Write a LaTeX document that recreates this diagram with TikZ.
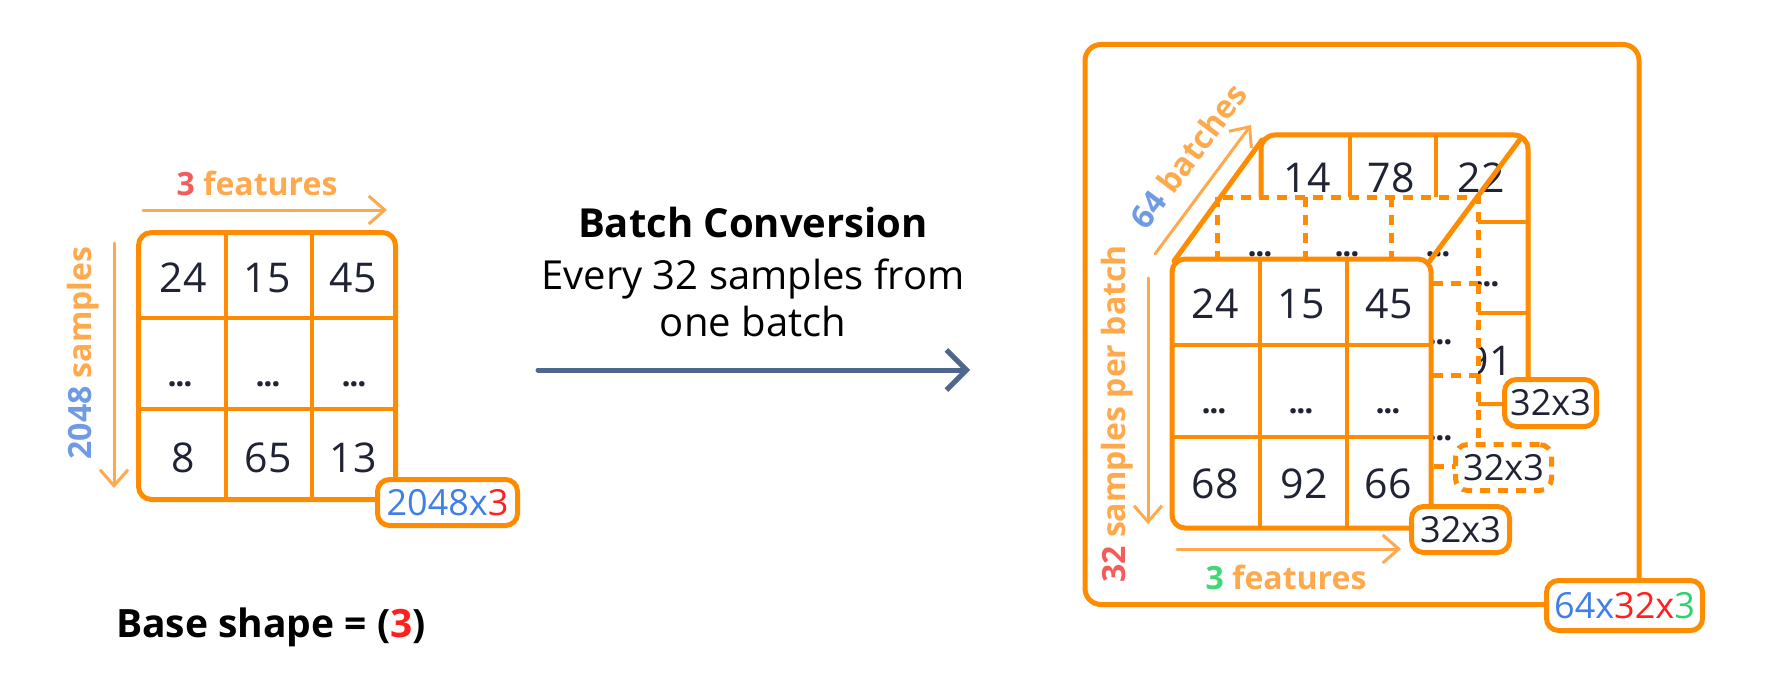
\documentclass[tikz,border=0pt]{standalone}
\usepackage{graphicx}
\usepackage{fontspec}
\setmainfont{Open Sans}
\usetikzlibrary{arrows.meta}
\definecolor{org}{HTML}{FF8C00}
\definecolor{lorg}{HTML}{FFA94D}
\definecolor{sred}{HTML}{F45B5B}
\definecolor{sblue}{HTML}{6F9BE6}
\definecolor{lblue}{HTML}{3F7FE8}
\definecolor{lred}{HTML}{FF1F1F}
\definecolor{sgreen}{HTML}{3FD872}
\definecolor{lgreen}{HTML}{2ED16A}
\definecolor{navy}{HTML}{1F2333}
\definecolor{slate}{HTML}{4E6690}
\newcommand{\tdots}{.\kern-0.6pt.\kern-0.6pt.}
\tikzset{
 ob/.style={draw=org, line width=2.5pt},
 gl/.style={draw=org, line width=2pt},
 dl/.style={draw=org, line width=2.5pt, dash pattern=on 5pt off 4pt},
 num/.style={text=navy, inner sep=0pt, font=\fontsize{20.5}{24}\selectfont},
 dts/.style={text=navy, inner sep=0pt, anchor=base, font=\bfseries\fontsize{16}{18}\selectfont},
 lbl/.style={draw=org, line width=2.5pt, fill=white, rounded corners=6pt, inner sep=0pt, text=navy, font=\fontsize{18}{20}\selectfont},
 tag/.style={inner sep=0pt, font=\bfseries\fontsize{16}{19}\selectfont},
 larr/.style={draw=lorg, line width=1.5pt, line cap=round},
}
\begin{document}
\begin{tikzpicture}[x=0.5pt,y=-0.5pt]
\useasboundingbox (0,0) rectangle (1772,674);
\fill[white] (0,0) rectangle (1772,674);

% ---------- left grid ----------
\draw[ob, fill=white, rounded corners=6.5pt] (138.5,232.5) rectangle (395.5,499.5);
\draw[gl] (226,232) -- (226,500) (312,232) -- (312,500);
\draw[gl] (138,318) -- (396,318) (138,409) -- (396,409);
\node[num] (a11) at (183,278) {24};
\node[num] (a12) at (267,278) {15};
\node[num] (a13) at (353,278) {45};
\node[dts] (a21) at (180,386) {\tdots};
\node[dts] (a22) at (268,386) {\tdots};
\node[dts] (a23) at (354,386) {\tdots};
\node[num] (a31) at (183,458) {8};
\node[num] (a32) at (268,458) {65};
\node[num] (a33) at (353,458) {13};
\node[lbl, minimum width=70pt, minimum height=23pt] (la) at (447.5,502.5) {{\color{lblue}2048x}{\color{lred}3}};

\coordinate (fa1) at (143,210); \coordinate (fa2) at (387,210);
\draw[larr, -{Straight Barb[length=8pt,width=14pt]}] (fa1) -- (fa2);
\node[tag] (ft1) at (257,183) {{\color{sred}3} {\color{lorg}features}};
\coordinate (sa1) at (114,243); \coordinate (sa2) at (114,488);
\draw[larr, -{Straight Barb[length=8pt,width=14pt]}] (sa1) -- (sa2);
\node[tag, rotate=90] (st1) at (83,353) {{\color{sblue}2048} {\color{lorg}samples}};

\node[anchor=base, font=\bfseries\fontsize{19.5}{23}\selectfont] (bs) at (271,637) {Base shape = ({\color{lred}3})};

% ---------- middle ----------
\node[anchor=base, font=\bfseries\fontsize{20}{24}\selectfont] (t1) at (753,237) {Batch Conversion};
\node[anchor=base, font=\fontsize{20}{24}\selectfont] (t2) at (753,289) {Every 32 samples from};
\node[anchor=base, font=\fontsize{20}{24}\selectfont] (t3) at (753,336) {one batch};
\coordinate (ma) at (538,370); \coordinate (mb) at (970,370);
\draw[draw=slate, line width=2.5pt, line cap=round, -{Straight Barb[length=10pt,width=20pt]}] (ma) -- (mb);

% ---------- right ----------
\draw[ob, rounded corners=8pt] (1085,44.5) rectangle (1639,604.5);

% back layer
\draw[gl, fill=white, rounded corners=7pt] (1261,135) rectangle (1528,404);
\draw[gl] (1350,135) -- (1350,404) (1436,135) -- (1436,404);
\draw[gl] (1261,222) -- (1528,222) (1261,313) -- (1528,313);
\draw[ob, rounded corners=7pt] (1261,404) -- (1261,135) -- (1528,135) -- (1528,404);
\node[num] (b11) at (1307,178) {14};
\node[num] (b12) at (1391,178) {78};
\node[num] (b13) at (1481,178) {22};
\node[dts] (b23) at (1487,286) {\tdots};
\node[num] (b33) at (1489,361) {91};

% dashed layer
\fill[white] (1217,197) rectangle (1478,466);
\draw[dl] (1305,197) -- (1305,466) (1391,197) -- (1391,466);
\draw[dl] (1217,283) -- (1478,283) (1217,375) -- (1478,375);
\draw[dl] (1217,197) rectangle (1478,466);
\node[dts] (c11) at (1260,256) {\tdots};
\node[dts] (c12) at (1347,256) {\tdots};
\node[dts] (c13) at (1438,256) {\tdots};
\node[dts] (c23) at (1440,344) {\tdots};
\node[dts] (c33) at (1440,440) {\tdots};

% front layer
\draw[ob, fill=white, rounded corners=6.5pt] (1172,259) rectangle (1431,528);
\draw[gl] (1260,259) -- (1260,528) (1347,259) -- (1347,528);
\draw[gl] (1172,345) -- (1431,345) (1172,437) -- (1431,437);
\node[num] (d11) at (1215,304) {24};
\node[num] (d12) at (1301,304) {15};
\node[num] (d13) at (1389,304) {45};
\node[dts] (d21) at (1214,413) {\tdots};
\node[dts] (d22) at (1301,413) {\tdots};
\node[dts] (d23) at (1388,413) {\tdots};
\node[num] (d31) at (1215,484) {68};
\node[num] (d32) at (1304,484) {92};
\node[num] (d33) at (1388,484) {66};

% diagonals
\coordinate (d1a) at (1174,261); \coordinate (d1b) at (1262,140);
\coordinate (d2a) at (1429,262); \coordinate (d2b) at (1521,138);
\draw[ob, line cap=round] (d1a) -- (d1b);
\draw[ob, line cap=round] (d2a) -- (d2b);

% labels
\node[lbl, minimum width=46pt, minimum height=23.5pt] (lb) at (1550.5,403) {32x3};
\node[lbl, minimum width=48pt, minimum height=23pt, dash pattern=on 5pt off 4pt] (lc) at (1503.5,467.5) {32x3};
\node[lbl, minimum width=49pt, minimum height=23pt] (ld) at (1460.5,529.5) {32x3};
\node[lbl, minimum width=78pt, minimum height=25pt] (le) at (1624.5,605.5) {{\color{lblue}64x}{\color{lred}32x}{\color{lgreen}3}};

% right arrows and tags
\coordinate (ra1) at (1148,278); \coordinate (ra2) at (1148,524);
\draw[larr, -{Straight Barb[length=8pt,width=14pt]}] (ra1) -- (ra2);
\node[tag, rotate=90] (st2) at (1117,414) {{\color{sred}32} {\color{lorg}samples per batch}};
\coordinate (rb1) at (1177,549); \coordinate (rb2) at (1401,549);
\draw[larr, -{Straight Barb[length=8pt,width=14pt]}] (rb1) -- (rb2);
\node[tag] (ft2) at (1286,577) {{\color{sgreen}3} {\color{lorg}features}};
\coordinate (rc1) at (1155,254); \coordinate (rc2) at (1251,125);
\draw[larr, -{Straight Barb[length=8pt,width=14pt]}] (rc1) -- (rc2);
\node[tag, rotate=53] (bt2) at (1188,156) {{\color{sblue}64} {\color{lorg}batches}};
\end{tikzpicture}
\end{document}
